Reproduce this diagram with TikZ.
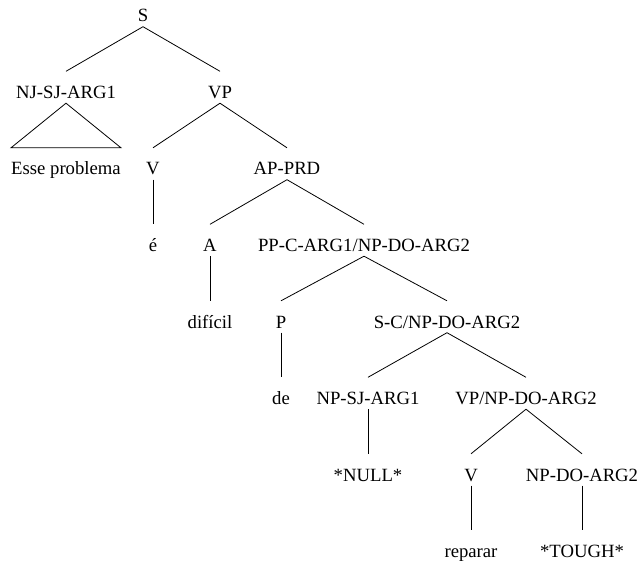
\documentclass[tikz,border=0pt]{standalone}
\usepackage{fontspec}
\setmainfont{Liberation Serif}
\begin{document}
\begin{tikzpicture}[x=1pt,y=-1pt,
  lbl/.style={anchor=base, inner sep=0pt, text height=27pt, text depth=4.5pt,
              font=\fontsize{18.7}{22}\selectfont},
  edge/.style={line width=0.8pt}]
\useasboundingbox (0,0) rectangle (638,567);
% labels of the tree, placed by their baselines (rows 76.5pt apart)
\node[lbl] (s)     at (143,22)    {S};
\node[lbl] (nj)    at (66,98.5)   {NJ-SJ-ARG1};
\node[lbl] (vp)    at (220,98.5)  {VP};
\node[lbl] (esse)  at (66,175)    {Esse problema};
\node[lbl] (v1)    at (153,175)   {V};
\node[lbl] (ap)    at (287,175)   {AP-PRD};
\node[lbl] (e)     at (153,251.5) {é};
\node[lbl] (a)     at (210,251.5) {A};
\node[lbl] (pp)    at (364,251.5) {PP-C-ARG1/NP-DO-ARG2};
\node[lbl] (dif)   at (210,328)   {difícil};
\node[lbl] (p)     at (281,328)   {P};
\node[lbl] (sc)    at (447,328)   {S-C/NP-DO-ARG2};
\node[lbl] (de)    at (281,404.5) {de};
\node[lbl] (npsj)  at (368,404.5) {NP-SJ-ARG1};
\node[lbl] (vpnp)  at (526,404.5) {VP/NP-DO-ARG2};
\node[lbl] (null)  at (368,481)   {*NULL*};
\node[lbl] (v2)    at (471,481)   {V};
\node[lbl] (npdo)  at (582,481)   {NP-DO-ARG2};
\node[lbl] (rep)   at (471,557.5) {reparar};
\node[lbl] (tough) at (582,557.5) {*TOUGH*};
% branches
\draw[edge] (s.south) -- (nj.north);
\draw[edge] (s.south) -- (vp.north);
\draw[edge] (nj.south) -- (esse.north west) -- (esse.north east) -- cycle;
\draw[edge] (vp.south) -- (v1.north);
\draw[edge] (vp.south) -- (ap.north);
\draw[edge] (v1.south) -- (e.north);
\draw[edge] (ap.south) -- (a.north);
\draw[edge] (ap.south) -- (pp.north);
\draw[edge] (a.south) -- (dif.north);
\draw[edge] (pp.south) -- (p.north);
\draw[edge] (pp.south) -- (sc.north);
\draw[edge] (p.south) -- (de.north);
\draw[edge] (sc.south) -- (npsj.north);
\draw[edge] (sc.south) -- (vpnp.north);
\draw[edge] (npsj.south) -- (null.north);
\draw[edge] (vpnp.south) -- (v2.north);
\draw[edge] (vpnp.south) -- (npdo.north);
\draw[edge] (v2.south) -- (rep.north);
\draw[edge] (npdo.south) -- (tough.north);
\end{tikzpicture}
\end{document}
